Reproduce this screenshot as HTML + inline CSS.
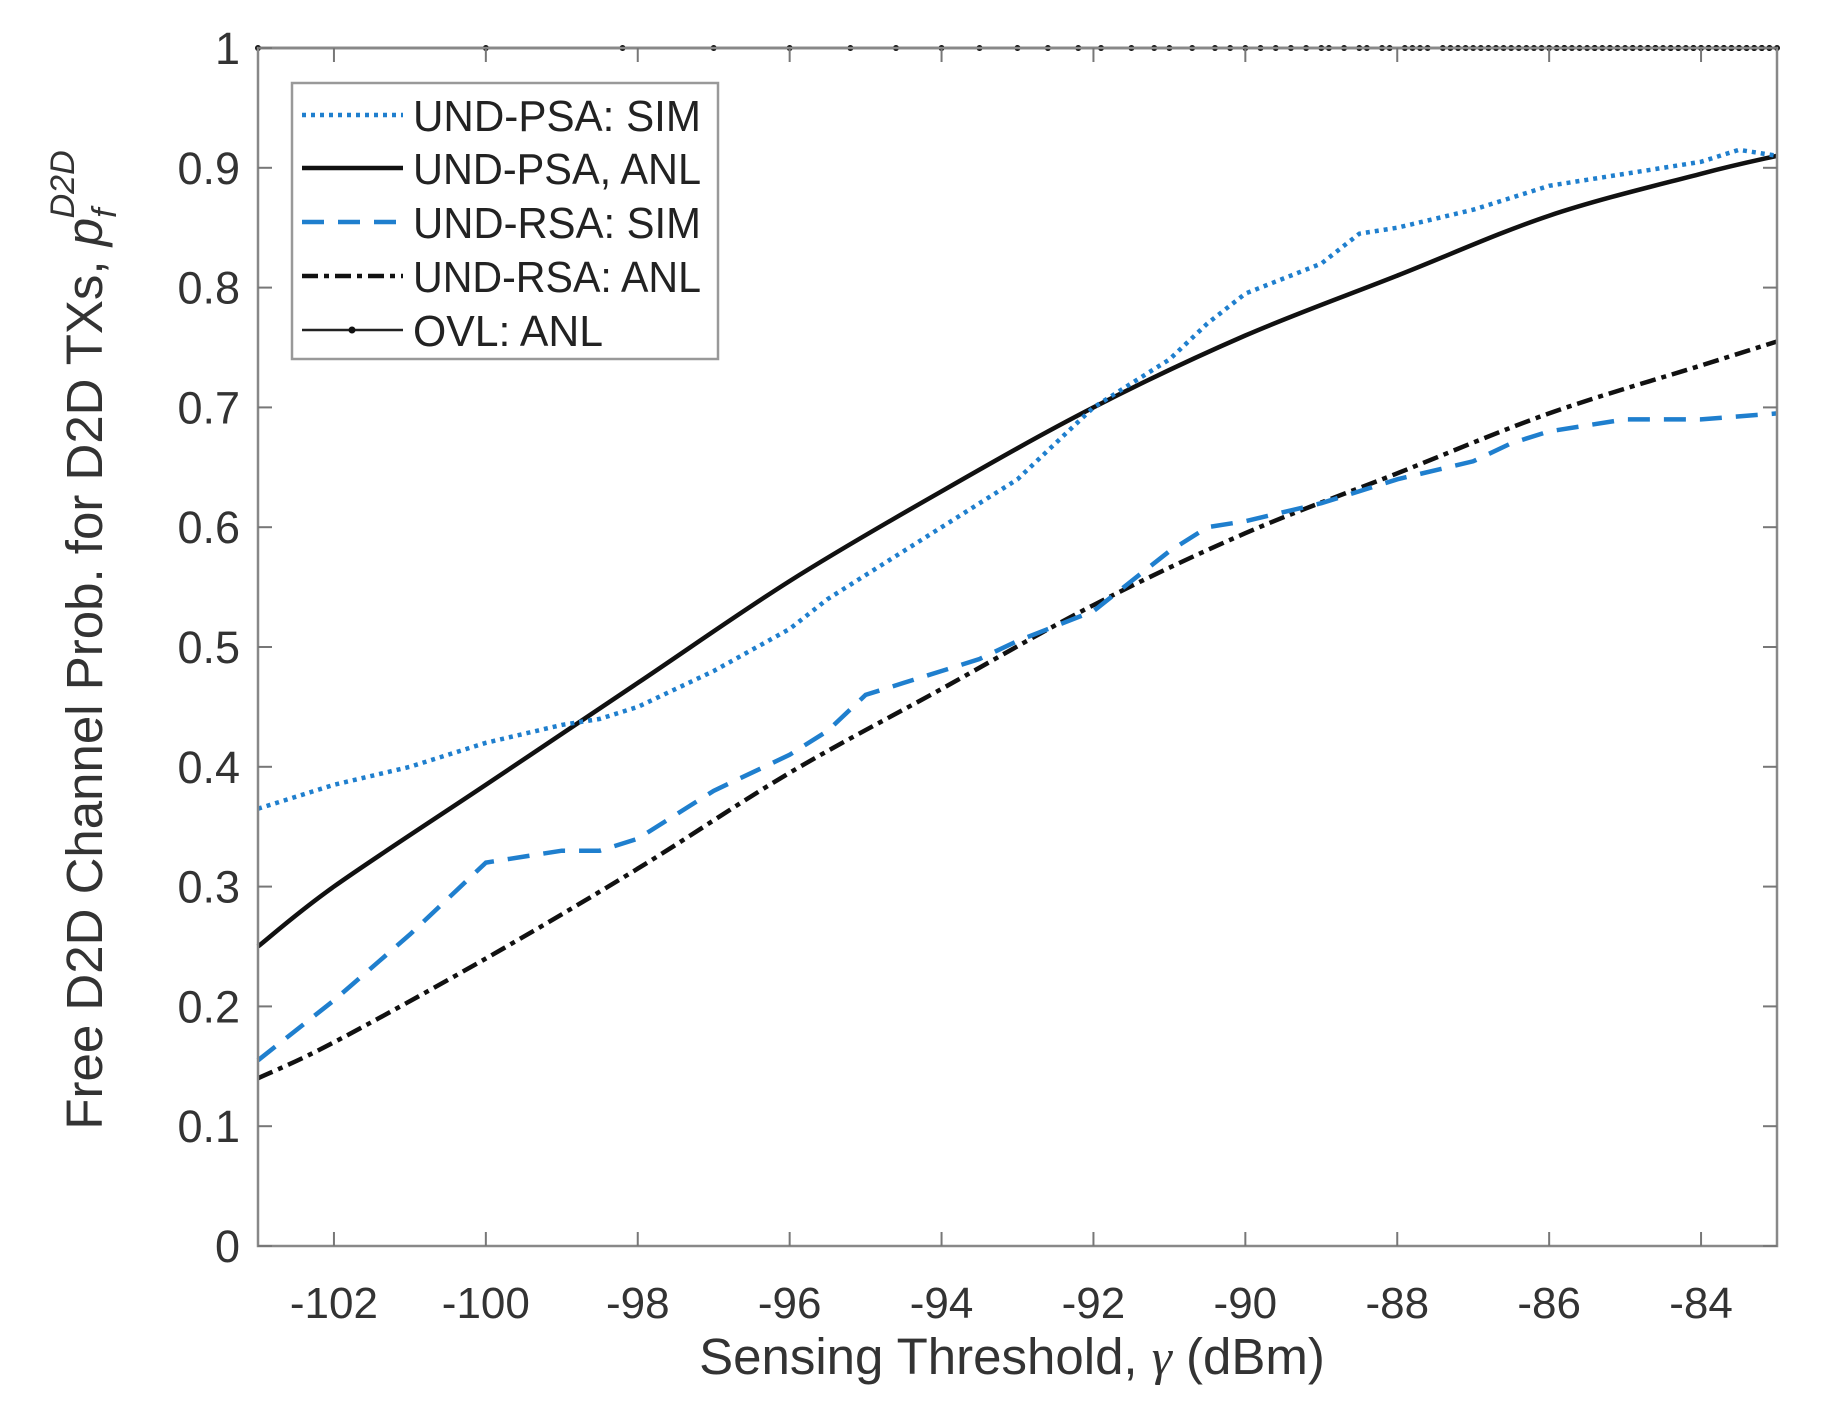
<!DOCTYPE html>
<html><head><meta charset="utf-8"><style>
html,body{margin:0;padding:0;background:#fff;}
svg{display:block;font-family:"Liberation Sans",sans-serif;}
</style></head><body>
<svg id="chart" width="1825" height="1421" viewBox="0 0 1825 1421" xmlns="http://www.w3.org/2000/svg">
<g id="grid"></g>
<g id="series"></g>
<g id="axes"></g>
<g id="legend"></g>
</svg>
<script>
const xTicks=[-102,-100,-98,-96,-94,-92,-90,-88,-86,-84];
const yTicks=[0,0.1,0.2,0.3,0.4,0.5,0.6,0.7,0.8,0.9,1];
const yTickLabels=["0","0.1","0.2","0.3","0.4","0.5","0.6","0.7","0.8","0.9","1"];
const psaAnlX=[-103,-102,-100,-98,-96,-94,-92,-90,-88,-86,-84,-83];
const psaAnlY=[0.25,0.3,0.385,0.47,0.555,0.63,0.70,0.76,0.81,0.86,0.895,0.91];
const psaSimX=[-103,-102,-101,-100,-99,-98.5,-98,-97,-96,-95.5,-95,-94,-93,-92.5,-92,-91.5,-91,-90.5,-90,-89,-88.5,-88,-87,-86.5,-86,-85.5,-85,-84,-83.5,-83];
const psaSimY=[0.365,0.385,0.40,0.42,0.435,0.44,0.45,0.48,0.515,0.54,0.56,0.60,0.64,0.67,0.70,0.72,0.74,0.77,0.795,0.82,0.845,0.85,0.865,0.875,0.885,0.89,0.895,0.905,0.915,0.91];
const rsaSimX=[-103,-102,-101,-100.5,-100,-99.5,-99,-98.5,-98,-97,-96,-95.5,-95,-94.5,-94,-93.5,-93,-92,-91.5,-91,-90.5,-90,-89,-88,-87,-86.5,-86,-85.5,-85,-84,-83];
const rsaSimY=[0.155,0.205,0.26,0.29,0.32,0.325,0.33,0.33,0.34,0.38,0.41,0.43,0.46,0.47,0.48,0.49,0.505,0.53,0.555,0.58,0.6,0.605,0.62,0.64,0.655,0.67,0.68,0.685,0.69,0.69,0.695];
const rsaAnlX=[-103,-102,-100,-98,-96,-94,-92,-90,-88,-86,-84,-83];
const rsaAnlY=[0.14,0.17,0.24,0.315,0.395,0.465,0.535,0.595,0.645,0.695,0.735,0.755];
const ovlX=[-103.0,-100.0,-98.2,-97.0,-96.0,-95.2,-94.6,-94.0,-93.5,-93.0,-92.6,-92.2,-91.9,-91.5,-91.2,-91.0,-90.7,-90.4,-90.2,-90.0,-89.8,-89.6,-89.4,-89.2,-89.0,-88.9,-88.7,-88.5,-88.4,-88.2,-88.1,-87.9,-87.8,-87.7,-87.6,-87.4,-87.3,-87.2,-87.1,-87.0,-86.9,-86.8,-86.7,-86.6,-86.5,-86.4,-86.3,-86.2,-86.1,-86.0,-85.9,-85.8,-85.8,-85.7,-85.6,-85.5,-85.4,-85.4,-85.3,-85.2,-85.2,-85.1,-85.0,-84.9,-84.9,-84.8,-84.7,-84.7,-84.6,-84.6,-84.5,-84.4,-84.4,-84.3,-84.3,-84.2,-84.1,-84.1,-84.0,-84.0,-83.9,-83.9,-83.8,-83.8,-83.7,-83.7,-83.6,-83.6,-83.5,-83.5,-83.4,-83.4,-83.3,-83.3,-83.2,-83.2,-83.2,-83.1,-83.1,-83.0];
const ovlY=ovlX.map(()=>1);

const L=258,R=1777,T=48,B=1246,xMin=-103,xMax=-83;
const sx=v=>L+(v-xMin)/(xMax-xMin)*(R-L);
const sy=v=>B-v*(B-T);
const NS="http://www.w3.org/2000/svg";
function mk(tag,attrs,parent){const e=document.createElementNS(NS,tag);for(const k in attrs)e.setAttribute(k,attrs[k]);parent.appendChild(e);return e;}
const axes=document.getElementById('axes'),series=document.getElementById('series'),legend=document.getElementById('legend');

const box=mk('rect',{x:L,y:T,width:R-L,height:B-T,fill:'none',stroke:'#888','stroke-width':2.5},axes);


xTicks.forEach(v=>{
  const x=sx(v);
  const t=mk('line',{x1:x,y1:B,x2:x,y2:B-14,stroke:'#777','stroke-width':2},axes);
  
  
  const t2=mk('line',{x1:x,y1:T,x2:x,y2:T+14,stroke:'#777','stroke-width':2},axes);
  
  
  const lb=mk('text',{x:x,y:B+72,'font-size':44,'text-anchor':'middle',fill:'#333'},axes);
  lb.textContent=String(v);
  
  
});
yTicks.forEach((v,i)=>{
  const y=sy(v);
  const t=mk('line',{x1:L,y1:y,x2:L+14,y2:y,stroke:'#777','stroke-width':2},axes);
  
  
  const t2=mk('line',{x1:R,y1:y,x2:R-14,y2:y,stroke:'#777','stroke-width':2},axes);
  
  
  const lb=mk('text',{x:L-18,y:y+16,'font-size':45,'text-anchor':'end',fill:'#333'},axes);
  lb.textContent=yTickLabels[i];
  
  
});
const xl=mk('text',{x:1012,y:1374,'font-size':51,'text-anchor':'middle',fill:'#333'},axes);
xl.innerHTML='Sensing Threshold, <tspan font-family="Liberation Serif" font-style="italic">γ</tspan> (dBm)';


const yl=mk('text',{x:0,y:0,'font-size':51,'text-anchor':'middle',fill:'#333',transform:'translate(102,640) rotate(-90)'},axes);
yl.innerHTML='Free D2D Channel Prob. for D2D TXs, <tspan font-style="italic">p</tspan><tspan font-style="italic" font-size="34" dy="14">f</tspan><tspan font-style="italic" font-size="34" dx="-10" dy="-42">D2D</tspan>';



function path(xs,ys,smooth){
  const P=xs.map((x,i)=>[sx(x),sy(ys[i])]);
  if(!smooth) return P.map((p,i)=>(i?'L':'M')+p[0].toFixed(1)+','+p[1].toFixed(1)).join(' ');
  let d='M'+P[0][0].toFixed(1)+','+P[0][1].toFixed(1);
  for(let i=0;i<P.length-1;i++){
    const p0=P[Math.max(0,i-1)],p1=P[i],p2=P[i+1],p3=P[Math.min(P.length-1,i+2)];
    const c1=[p1[0]+(p2[0]-p0[0])/6,p1[1]+(p2[1]-p0[1])/6];
    const c2=[p2[0]-(p3[0]-p1[0])/6,p2[1]-(p3[1]-p1[1])/6];
    d+=' C'+c1.map(v=>v.toFixed(1)).join(',')+' '+c2.map(v=>v.toFixed(1)).join(',')+' '+p2.map(v=>v.toFixed(1)).join(',');
  }
  return d;
}
const styles={
 psaSim:{stroke:'#1f7fce',dash:'4 5',w:4.5},
 psaAnl:{stroke:'#111',dash:'',w:4.5},
 rsaSim:{stroke:'#1f7fce',dash:'22 14',w:4.5},
 rsaAnl:{stroke:'#111',dash:'16 6 5 6',w:4.5},
 ovl:{stroke:'#222',dash:'',w:2.5}
};
function draw(xs,ys,st,name,smooth){
  const p=mk('path',{d:path(xs,ys,smooth),fill:'none',stroke:st.stroke,'stroke-width':st.w,'stroke-dasharray':st.dash},series);
  
  
}
draw(ovlX,ovlY,styles.ovl,'ovl-anl-line',false);
ovlX.forEach((x,i)=>{
  const c=mk('circle',{cx:sx(x),cy:sy(ovlY[i]),r:3,fill:'#111'},series);
  
  
});
draw(rsaAnlX,rsaAnlY,styles.rsaAnl,'und-rsa-anl-line',true);
draw(rsaSimX,rsaSimY,styles.rsaSim,'und-rsa-sim-line',false);
draw(psaAnlX,psaAnlY,styles.psaAnl,'und-psa-anl-line',true);
draw(psaSimX,psaSimY,styles.psaSim,'und-psa-sim-line',false);

const lbox=mk('rect',{x:292,y:83,width:426,height:276,fill:'#fff',stroke:'#999','stroke-width':2.5},legend);


const entries=[['UND-PSA: SIM',styles.psaSim],['UND-PSA, ANL',styles.psaAnl],['UND-RSA: SIM',styles.rsaSim],['UND-RSA: ANL',styles.rsaAnl],['OVL: ANL',styles.ovl]];
const ly=[115,168,222,276,330];
entries.forEach((e,i)=>{
  const g=mk('g',{},legend);
  
  
  mk('line',{x1:302,y1:ly[i],x2:403,y2:ly[i],stroke:e[1].stroke,'stroke-width':e[1].w,'stroke-dasharray':e[1].dash},g);
  if(i===4) mk('circle',{cx:352,cy:ly[i],r:3.5,fill:'#111'},g);
  const t=mk('text',{x:413,y:ly[i]+16,'font-size':44,fill:'#222',textLength:288,lengthAdjust:'spacingAndGlyphs'},g);
  t.textContent=e[0];
  if(i===4) t.setAttribute('textLength',190);
});
</script>
</body></html>
